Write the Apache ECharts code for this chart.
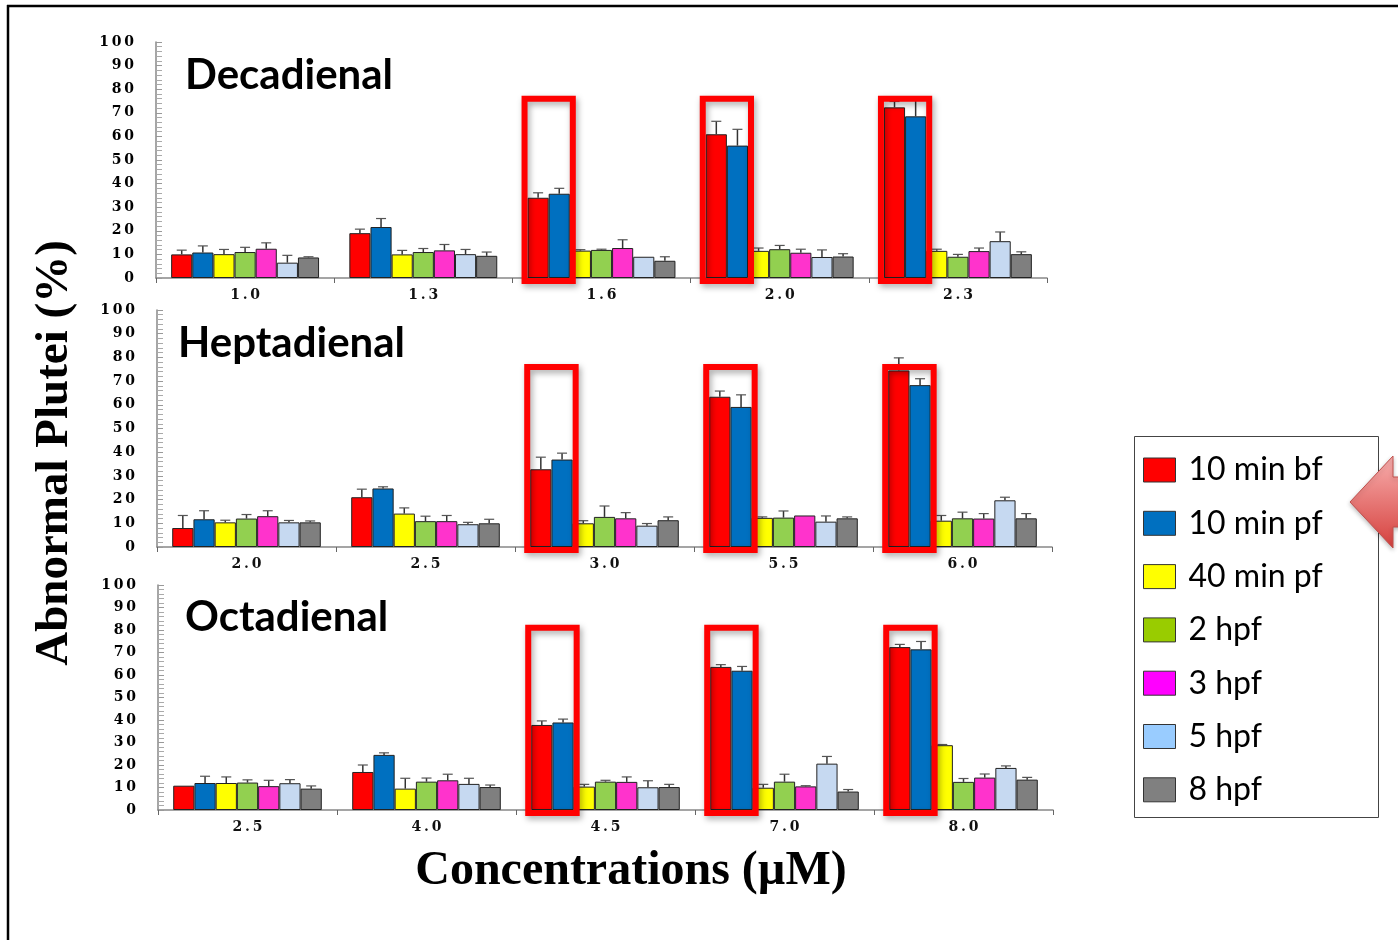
<!DOCTYPE html>
<html>
<head>
<meta charset="utf-8">
<title>Abnormal Plutei</title>
<script src="https://cdn.jsdelivr.net/npm/echarts@6.0.0/dist/echarts.min.js"></script>
<style>
    html, body { margin: 0; padding: 0; background: #fff; }
    #plutei { width: 1398px; height: 940px; }
</style>
</head>
<body>
<div id="plutei"></div>
<script>

/* treatment times (legend order) */
var groupNames = ['10 min bf', '10 min pf', '40 min pf', '2 hpf', '3 hpf', '5 hpf', '8 hpf'];
var barColors = ['#FF0000', '#0070C0', '#FFFF00', '#92D050', '#FF33CC', '#C6D9F1', '#7F7F7F'];
var legendColors = ['#FF0000', '#0070C0', '#FFFF00', '#99CC00', '#FF00FF', '#99CCFF', '#808080'];

var panelTitles = ['Decadienal', 'Heptadienal', 'Octadienal'];

/* Decadienal */
var decaConc = ['1.0', '1.3', '1.6', '2.0', '2.3'];
var decaMean = [
    [10.0, 19.0, 34.0, 60.9, 72.3],
    [10.8, 21.6, 35.7, 56.1, 68.5],
    [10.1, 10.0, 11.6, 11.5, 11.5],
    [11.0, 11.0, 11.9, 12.2, 9.0],
    [12.4, 11.7, 12.7, 10.7, 11.4],
    [6.5, 10.1, 9.0, 8.9, 15.6],
    [8.7, 9.4, 7.3, 9.1, 10.1]
];
var decaErr = [
    [1.8, 1.7, 2.1, 5.5, 2.5],
    [2.8, 3.6, 2.3, 6.9, 7.0],
    [2.0, 1.7, 0.4, 1.2, 0.7],
    [2.0, 1.5, 0.3, 1.6, 1.0],
    [2.5, 2.5, 3.5, 1.5, 1.3],
    [3.1, 2.0, 0.2, 3.0, 3.9],
    [0.3, 1.6, 1.7, 1.2, 1.0]
];

/* Heptadienal */
var heptaConc = ['2.0', '2.5', '3.0', '5.5', '6.0'];
var heptaMean = [
    [8.0, 21.0, 32.8, 63.4, 74.5],
    [11.7, 24.7, 36.9, 59.1, 68.3],
    [10.4, 14.1, 10.0, 12.3, 11.1],
    [12.0, 10.9, 12.7, 12.4, 12.1],
    [13.0, 10.9, 12.1, 13.3, 12.0],
    [10.4, 9.6, 9.0, 10.7, 19.7],
    [10.4, 10.0, 11.3, 12.1, 12.1]
];
var heptaErr = [
    [5.3, 3.4, 5.1, 2.4, 5.3],
    [3.6, 0.7, 2.7, 5.1, 2.7],
    [0.9, 2.4, 1.1, 0.4, 2.2],
    [1.7, 2.1, 4.6, 2.8, 2.6],
    [2.3, 2.4, 2.4, 0.2, 2.1],
    [0.8, 0.8, 0.9, 2.4, 1.3],
    [0.6, 1.7, 1.4, 0.6, 2.0]
];

/* Octadienal */
var octaConc = ['2.5', '4.0', '4.5', '7.0', '8.0'];
var octaMean = [
    [10.8, 16.9, 37.8, 63.6, 72.4],
    [12.0, 24.5, 38.9, 61.9, 71.4],
    [12.0, 9.5, 10.4, 9.9, 28.8],
    [12.2, 12.6, 12.6, 12.6, 12.5],
    [10.6, 13.2, 12.5, 10.5, 14.4],
    [11.9, 11.6, 10.1, 20.6, 18.7],
    [9.5, 10.2, 10.2, 8.2, 13.5]
];
var octaErr = [
    [0.0, 3.1, 1.8, 1.0, 1.2],
    [3.0, 0.9, 1.5, 1.9, 3.5],
    [2.7, 4.6, 1.0, 1.5, 0.3],
    [1.2, 1.6, 0.6, 3.3, 1.5],
    [2.6, 2.7, 2.2, 0.3, 1.6],
    [1.6, 2.5, 2.9, 3.2, 0.9],
    [1.2, 0.9, 1.2, 0.9, 1.0]
];

/* highlighted concentrations (red boxes round 10 min bf / 10 min pf) */
var boxCats = [2, 3, 4];
var boxTop = [76, 76, 81];

var GAP = 0.17;
var titleFont = "'Comic Sans MS', 'Lato', sans-serif";
var serifFont = "'DejaVu Serif', 'Liberation Serif', serif";

var panelData = [
    {conc: decaConc, mean: decaMean, err: decaErr},
    {conc: heptaConc, mean: heptaMean, err: heptaErr},
    {conc: octaConc, mean: octaMean, err: octaErr}
];
var panelLayout = [
    {left: 156, right: 351, top: 42, height: 236, titleX: 185, titleY: 75},
    {left: 157, right: 346, top: 310, height: 237, titleX: 178, titleY: 343},
    {left: 158, right: 345, top: 585, height: 225, titleX: 185, titleY: 617}
];

function spaced(s) {
    return String(s).split('').join('\u2009');
}

/* error bar: stem + cap above each bar */
function makeErrorRender(k) {
    return function (params, api) {
        var ci = api.value(0);
        var base = api.coord([ci, api.value(1)]);
        var top = api.coord([ci, api.value(2)]);
        if (base[1] - top[1] < 0.5) {
            return;
        }
        var band = api.size([1, 0])[0];
        var barW = band * (1 - GAP) / 7;
        var x = base[0] - band * (1 - GAP) / 2 + (k + 0.5) * barW;
        var style = {stroke: '#333', lineWidth: 1.5};
        return {
            type: 'group',
            children: [
                {type: 'line', shape: {x1: x, y1: base[1], x2: x, y2: top[1]}, style: style},
                {type: 'line', shape: {x1: x - 5, y1: top[1], x2: x + 5, y2: top[1]}, style: {stroke: '#555', lineWidth: 1.2}}
            ]
        };
    };
}

function renderBox(params, api) {
    var ci = api.value(0);
    var base = api.coord([ci, 0]);
    var top = api.coord([ci, api.value(1)]);
    var band = api.size([1, 0])[0];
    var barW = band * (1 - GAP) / 7;
    var x0 = base[0] - band * (1 - GAP) / 2 - 3;
    return {
        type: 'rect',
        shape: {x: x0, y: top[1], width: 2 * barW + 6, height: base[1] + 3 - top[1]},
        style: {
            fill: 'none', stroke: '#FF0000', lineWidth: 6,
            shadowBlur: 6, shadowColor: 'rgba(0,0,0,0.35)', shadowOffsetX: 2, shadowOffsetY: 3
        }
    };
}

function loadPluteiChart() {
    var chart = echarts.init(document.getElementById('plutei'));

    var grids = [], xAxes = [], yAxes = [], series = [];
    var graphics = [];

    for (var p = 0; p < 3; p++) {
        var lay = panelLayout[p];
        var d = panelData[p];

        grids.push({left: lay.left, right: lay.right, top: lay.top, height: lay.height});

        xAxes.push({
            type: 'category',
            gridIndex: p,
            data: d.conc,
            axisLine: {lineStyle: {color: '#888', width: 1.5}},
            axisTick: {show: true, length: 5, lineStyle: {color: '#666'}},
            axisLabel: {
                margin: 10,
                fontFamily: serifFont, fontWeight: 'bold', fontSize: 14, color: '#111',
                formatter: spaced
            }
        });

        yAxes.push({
            type: 'value',
            gridIndex: p,
            min: 0,
            max: 100,
            interval: 10,
            axisLine: {show: true, lineStyle: {color: '#888', width: 1.5}},
            axisTick: {show: true, inside: true, length: 6, lineStyle: {color: '#999'}},
            minorTick: {show: true, splitNumber: 5, length: 6, lineStyle: {color: '#aaa'}},
            splitLine: {show: false},
            axisLabel: {
                margin: 22,
                fontFamily: serifFont, fontWeight: 'bold', fontSize: 14, color: '#000',
                formatter: spaced
            }
        });

        for (var k = 0; k < groupNames.length; k++) {
            series.push({
                name: groupNames[k],
                type: 'bar',
                xAxisIndex: p,
                yAxisIndex: p,
                data: d.mean[k],
                barGap: '0%',
                barCategoryGap: (GAP * 100) + '%',
                itemStyle: {color: barColors[k], borderColor: '#222', borderWidth: 1},
                emphasis: {disabled: true},
                z: 2
            });
        }

        for (var k2 = 0; k2 < groupNames.length; k2++) {
            var errData = [];
            for (var i = 0; i < d.conc.length; i++) {
                errData.push([i, d.mean[k2][i], d.mean[k2][i] + d.err[k2][i]]);
            }
            series.push({
                name: 'err',
                type: 'custom',
                xAxisIndex: p,
                yAxisIndex: p,
                data: errData,
                encode: {x: 0, y: [1, 2]},
                renderItem: makeErrorRender(k2),
                silent: true,
                z: 3
            });
        }

        var boxData = [];
        for (var b = 0; b < boxCats.length; b++) {
            boxData.push([boxCats[b], boxTop[p]]);
        }
        series.push({
            name: 'box',
            type: 'custom',
            xAxisIndex: p,
            yAxisIndex: p,
            data: boxData,
            encode: {x: 0, y: 1},
            renderItem: renderBox,
            silent: true,
            z: 5
        });

        graphics.push({
            type: 'text',
            x: lay.titleX,
            y: lay.titleY,
            style: {
                text: panelTitles[p], fill: '#000',
                fontFamily: titleFont, fontWeight: 'bold', fontSize: 42,
                verticalAlign: 'middle'
            }
        });
    }

    /* slide frame */
    graphics.push({type: 'line', shape: {x1: 7, y1: 6, x2: 1400, y2: 6}, style: {stroke: '#000', lineWidth: 2.5}});
    graphics.push({type: 'line', shape: {x1: 8, y1: 5, x2: 8, y2: 942}, style: {stroke: '#000', lineWidth: 2.5}});

    /* axis titles */
    graphics.push({
        type: 'text', x: 55, y: 453, rotation: Math.PI / 2,
        style: {
            text: 'Abnormal Plutei (%)', fill: '#000', align: 'center', verticalAlign: 'middle',
            fontFamily: "'Liberation Serif', serif", fontWeight: 'bold', fontSize: 47
        }
    });
    graphics.push({
        type: 'text', x: 631, y: 872,
        style: {
            text: 'Concentrations (\u00b5M)', fill: '#000', align: 'center', verticalAlign: 'middle',
            fontFamily: "'Liberation Serif', serif", fontWeight: 'bold', fontSize: 48
        }
    });

    /* legend frame */
    graphics.push({
        type: 'rect', shape: {x: 1134.5, y: 436.5, width: 244, height: 381},
        style: {fill: '#fff', stroke: '#444', lineWidth: 1}, z: -1
    });

    /* red pointer arrow at the right edge */
    graphics.push({
        type: 'polygon',
        shape: {points: [[1350, 502], [1393, 456], [1393, 477], [1402, 477], [1402, 527], [1393, 527], [1393, 548]]},
        style: {
            fill: new echarts.graphic.LinearGradient(0, 0, 0, 1, [
                {offset: 0, color: '#F8AFAE'},
                {offset: 1, color: '#D5403D'}
            ]),
            stroke: '#C0504D', lineWidth: 1,
            shadowBlur: 4, shadowColor: 'rgba(0,0,0,0.25)', shadowOffsetY: 2
        }
    });

    var legendData = [];
    for (var n = 0; n < groupNames.length; n++) {
        legendData.push({
            name: groupNames[n],
            icon: 'rect',
            itemStyle: {color: legendColors[n], borderColor: '#333', borderWidth: 1}
        });
    }

    var option = {
        animation: false,
        backgroundColor: '#fff',
        grid: grids,
        xAxis: xAxes,
        yAxis: yAxes,
        legend: {
            orient: 'vertical',
            left: 1143,
            top: 454,
            padding: 0,
            itemWidth: 32,
            itemHeight: 24,
            itemGap: 21.3,
            selectedMode: false,
            textStyle: {fontFamily: titleFont, fontSize: 32, color: '#000', lineHeight: 30, padding: [0, 0, 0, 8]},
            data: legendData
        },
        graphic: graphics,
        series: series
    };

    chart.setOption(option);
}

loadPluteiChart();

</script>
</body>
</html>
